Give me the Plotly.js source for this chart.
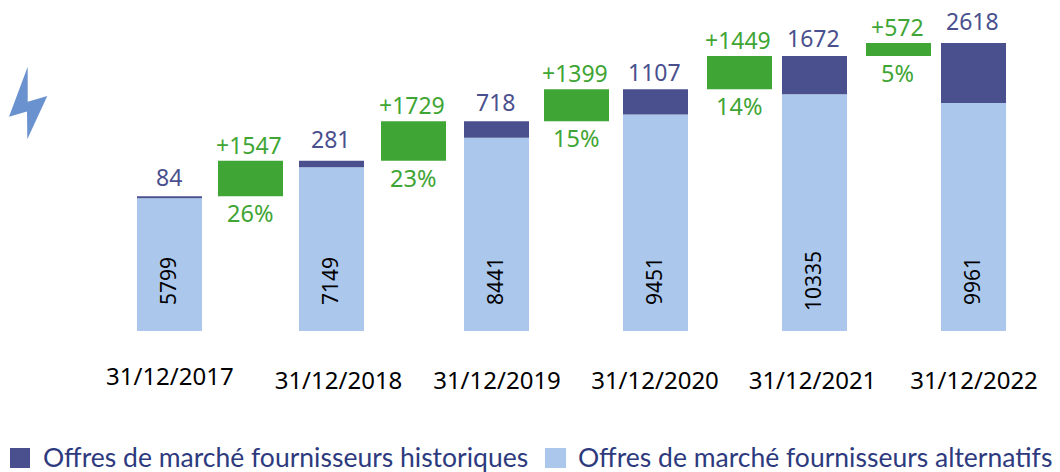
<!DOCTYPE html>
<html><head><meta charset="utf-8">
<script src="https://cdn.plot.ly/plotly-3.0.1.min.js"></script>
<style>html,body{margin:0;padding:0;background:#fff}#c{width:1060px;height:472px}</style>
</head><body><div id="c"></div>
<script>
// Data
const dates = ['31/12/2017','31/12/2018','31/12/2019','31/12/2020','31/12/2021','31/12/2022'];
const alternatifs = [5799,7149,8441,9451,10335,9961];
const historiques = [84,281,718,1107,1672,2618];
const evolution = [1547,1729,1399,1449,572];
const evolutionPct = ['26%','23%','15%','14%','5%'];
const legendNames = ['Offres de marché fournisseurs historiques','Offres de marché fournisseurs alternatifs'];

// Layout helpers (pixel space of the 1060x472 page)
const W=1060,H=472,BASE=331,PX_PER_UNIT=0.0229;
const barCenters=[169.5,331.5,496.5,655.5,814.5,973.5];
const gainCenters=[250.5,413.5,576.5,739.5,898.5];
const dateCenters=[170,338.5,497,655,812.5,974];
const topShift=[19,22,19,17,18,22];
const py=p=>1-p/H;

const totals=alternatifs.map((v,i)=>v+historiques[i]);
const C={alt:'#abc8ec',hist:'#4a508e',gain:'#3fa535',txt:'#000000',leg:'#2d3a7e'};
const NUM='"Noto Sans", sans-serif', LEG='Lato, sans-serif';

const traces=[
 {type:'bar',x:barCenters,y:alternatifs,width:65,marker:{color:C.alt},name:legendNames[1],showlegend:false,hoverinfo:'skip'},
 {type:'bar',x:barCenters,y:historiques,base:alternatifs,width:65,marker:{color:C.hist},name:legendNames[0],showlegend:false,hoverinfo:'skip'},
 {type:'bar',x:gainCenters,y:evolution,base:totals.slice(0,5),width:65,marker:{color:C.gain},name:'Évolution',showlegend:false,hoverinfo:'skip'}
];

const ann=[];
alternatifs.forEach((v,i)=>ann.push({x:barCenters[i],y:50/PX_PER_UNIT,text:String(v),textangle:-90,showarrow:false,xshift:-1.5,
  xanchor:'center',yanchor:'middle',font:{family:NUM,size:21,color:C.txt}}));
historiques.forEach((v,i)=>ann.push({x:barCenters[i],y:totals[i],text:String(v),showarrow:false,xanchor:'center',yanchor:'middle',xshift:-1,
  yshift:topShift[i],font:{family:NUM,size:23,color:C.hist}}));
evolution.forEach((v,i)=>{
  ann.push({x:gainCenters[i],y:totals[i+1],text:'+'+v,showarrow:false,xanchor:'center',yanchor:'middle',xshift:-1.5,yshift:16,font:{family:NUM,size:23,color:C.gain}});
  ann.push({x:gainCenters[i],y:totals[i],text:evolutionPct[i],showarrow:false,xanchor:'center',yanchor:'middle',xshift:-1,yshift:-17,font:{family:NUM,size:23.5,color:C.gain}});
});
ann.push({x:dateCenters[0],y:0,text:dates[0],showarrow:false,xanchor:'center',yanchor:'middle',yshift:-44,font:{family:NUM,size:24,color:C.txt}});
ann.push({xref:'paper',yref:'paper',x:41/W,y:py(457),text:legendNames[0],showarrow:false,xanchor:'left',yanchor:'middle',font:{family:LEG,size:26.5,color:C.leg}});
ann.push({xref:'paper',yref:'paper',x:575.5/W,y:py(457),text:legendNames[1],showarrow:false,xanchor:'left',yanchor:'middle',font:{family:LEG,size:26.5,color:C.leg}});

const rect=(x0,y0,x1,y1,c)=>({type:'rect',xref:'paper',yref:'paper',x0:x0/W,x1:x1/W,y0:py(y0),y1:py(y1),fillcolor:c,line:{width:0}});
const shapes=[
 rect(10,448,30,468,C.hist),
 rect(545,448,566,468,C.alt),
 {type:'path',xref:'x',yref:'paper',fillcolor:'#6a92cf',line:{width:0},
  path:`M27.7,${py(66.7)} L27.7,${py(101.7)} L47.3,${py(96)} L27.3,${py(139.3)} L27,${py(111.5)} L9,${py(116.7)} Z`}
];

const layout={
 width:W,height:H,margin:{l:0,r:0,t:0,b:0},paper_bgcolor:'#fff',plot_bgcolor:'#fff',
 barmode:'overlay',showlegend:false,
 xaxis:{range:[0,W],fixedrange:true,showgrid:false,zeroline:false,showline:false,ticks:'',
   tickmode:'array',tickvals:dateCenters.slice(1),ticktext:dates.slice(1),ticklabelstandoff:33,
   tickfont:{family:NUM,size:24,color:C.txt}},
 yaxis:{domain:[(H-BASE)/H,1],range:[0,BASE/PX_PER_UNIT],visible:false,fixedrange:true},
 annotations:ann,shapes:shapes
};
Plotly.newPlot('c',traces,layout,{displayModeBar:false,staticPlot:true});
</script></body></html>
